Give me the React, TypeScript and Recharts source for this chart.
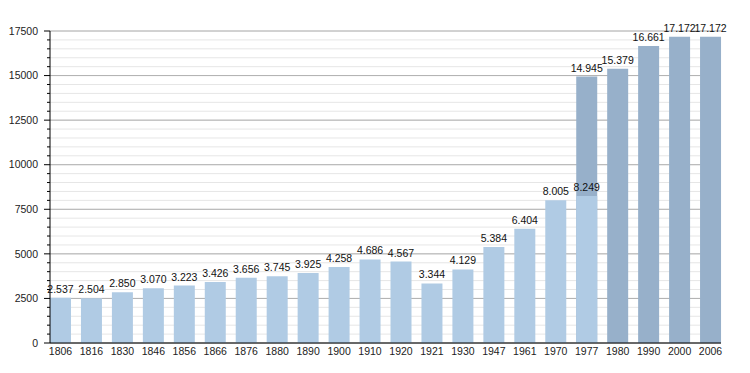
import { BarChart, Bar, XAxis, YAxis, CartesianGrid, LabelList } from "recharts";

if (typeof document !== "undefined") document.body.style.margin = "0";

const years = [
  "1806", "1816", "1830", "1846", "1856", "1866", "1876", "1880", "1890", "1900", "1910",
  "1920", "1921", "1930", "1947", "1961", "1970", "1977", "1980", "1990", "2000", "2006",
];
// older census values (light bars)
const early = [
  2537, 2504, 2850, 3070, 3223, 3426, 3656, 3745, 3925, 4258, 4686,
  4567, 3344, 4129, 5384, 6404, 8005, 8249, null, null, null, null,
];
// after the 1977 merger (dark bars)
const late = [
  null, null, null, null, null, null, null, null, null, null, null,
  null, null, null, null, null, null, 14945, 15379, 16661, 17172, 17172,
];
const majorTicks = [0, 2500, 5000, 7500, 10000, 12500, 15000, 17500];
const minorTicks = Array.from({ length: 36 }, (_, i) => i * 500);

const data = years.map((y, i) => ({ year: y, early: early[i], late: late[i] }));

const FONT = "'Liberation Sans', Arial, sans-serif";
const fmt = (v: any) => (v == null ? "" : new Intl.NumberFormat("de-DE").format(Number(v)));

const YTick = (props: any) => {
  const { x, y, payload } = props;
  const major = payload.value % 2500 === 0;
  return (
    <g>
      <line x1={x - (major ? 6 : 3)} x2={x} y1={y} y2={y} stroke="#000" strokeWidth={1} />
      {major && (
        <text x={x - 12} y={y} dy="0.35em" textAnchor="end" fontSize={10.5} fill="#222" fontFamily={FONT}>
          {payload.value}
        </text>
      )}
    </g>
  );
};

export default function App() {
  return (
    <BarChart
      width={750}
      height={373}
      data={data}
      margin={{ top: 31, right: 29, left: 0, bottom: 0 }}
      barSize={21}
    >
      <CartesianGrid horizontalValues={minorTicks} vertical={false} stroke="#e6e6e6" />
      <CartesianGrid horizontalValues={majorTicks} vertical={false} stroke="#b0b0b0" />
      <XAxis
        xAxisId="a"
        dataKey="year"
        padding={{ left: -5, right: -5 }}
        tickLine={false}
        tickSize={0}
        tickMargin={5}
        axisLine={{ stroke: "#000" }}
        interval={0}
        height={30}
        tick={{ fontSize: 10.5, fill: "#222", fontFamily: FONT }}
      />
      <XAxis xAxisId="b" dataKey="year" padding={{ left: -5, right: -5 }} hide />
      <YAxis
        domain={[0, 17500]}
        ticks={minorTicks.slice(0, 36)}
        interval={0}
        width={50}
        tickLine={false}
        tickSize={0}
        tickMargin={0}
        axisLine={{ stroke: "#000" }}
        tick={<YTick />}
      />
      <Bar xAxisId="b" dataKey="late" fill="#97b0ca" isAnimationActive={false}>
        <LabelList dataKey="late" position="top" formatter={fmt} fontSize={10.5} fill="#111" fontFamily={FONT} />
      </Bar>
      <Bar xAxisId="a" dataKey="early" fill="#b0cbe4" isAnimationActive={false}>
        <LabelList dataKey="early" position="top" formatter={fmt} fontSize={10.5} fill="#111" fontFamily={FONT} />
      </Bar>
    </BarChart>
  );
}
